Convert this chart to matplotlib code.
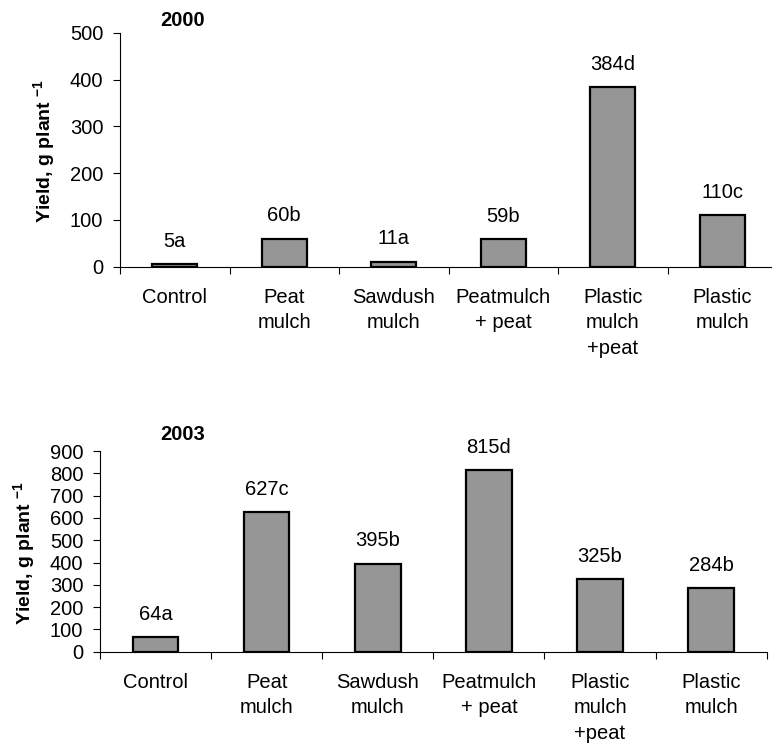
import numpy as np
import matplotlib
matplotlib.use("Agg")
import matplotlib.pyplot as plt

plt.rcParams['font.family'] = ['Liberation Sans', 'DejaVu Sans']
plt.rcParams['mathtext.fontset'] = 'custom'
plt.rcParams['mathtext.rm'] = 'Liberation Sans'
plt.rcParams['mathtext.bf'] = 'Liberation Sans:bold'

categories = ["Control", "Peat\nmulch", "Sawdush\nmulch", "Peatmulch\n+ peat",
              "Plastic\nmulch\n+peat", "Plastic\nmulch"]

yield_2000 = [5, 60, 11, 59, 384, 110]
letters_2000 = ["a", "b", "a", "b", "d", "c"]

yield_2003 = [64, 627, 395, 815, 325, 284]
letters_2003 = ["a", "c", "b", "d", "b", "b"]

W, H = 772, 748
fig = plt.figure(figsize=(W / 100, H / 100), dpi=100)

FS = 14.5


def draw_panel(rect, values, letters, ymax, ystep, year, year_xy, ylabel_xy):
    ax = fig.add_axes(rect)
    x = np.arange(len(values))
    ax.bar(x, values, width=0.41, color="#969696", edgecolor="black", linewidth=1.6, zorder=3)
    for xi, v, l in zip(x, values, letters):
        ax.annotate(f"{v}{l}", (xi, v), xytext=(0, 9.5), textcoords="offset points",
                    ha="center", va="bottom", fontsize=FS)
    ax.set_xlim(-0.5, len(values) - 0.5)
    ax.set_ylim(0, ymax)
    ax.set_yticks(np.arange(0, ymax + 1, ystep))
    # boundary ticks carry no labels; names sit on minor ticks at bar centres
    ax.set_xticks(np.arange(-0.5, len(values)), labels=[])
    ax.set_xticks(x, labels=categories, minor=True)
    ax.tick_params(axis="x", which="major", direction="out", length=5, width=0.8)
    ax.tick_params(axis="x", which="minor", length=0, pad=15, labelsize=FS)
    ax.tick_params(axis="y", direction="out", length=5, width=0.8, labelsize=FS, pad=7)
    for lab in ax.get_xticklabels(minor=True):
        lab.set_linespacing(1.45)
        lab.set_va("top")
    ax.spines["top"].set_visible(False)
    ax.spines["right"].set_visible(False)
    ax.spines["left"].set_linewidth(0.8)
    ax.spines["bottom"].set_linewidth(0.8)
    fig.text(year_xy[0] / W, 1 - year_xy[1] / H, year, fontsize=FS, fontweight="bold",
             ha="center", va="center")
    fig.text(ylabel_xy[0] / W, 1 - ylabel_xy[1] / H, r"Yield, g plant $^{\mathbf{-1}}$",
             fontsize=14, fontweight="bold", rotation=90, ha="center", va="center")
    return ax


# top panel: axis spans x 120..777 px, y 33..266.7 px
draw_panel([120 / W, 1 - 266.7 / H, 657 / W, 233.7 / H], yield_2000, letters_2000,
           500, 100, "2000", (183, 20), (45, 151))
# bottom panel: axis spans x 100..766.7 px, y 451..651.7 px
draw_panel([100 / W, 1 - 651.7 / H, 666.7 / W, 200.7 / H], yield_2003, letters_2003,
           900, 100, "2003", (183, 435), (25, 553))

fig.savefig("out.png", dpi=100)
